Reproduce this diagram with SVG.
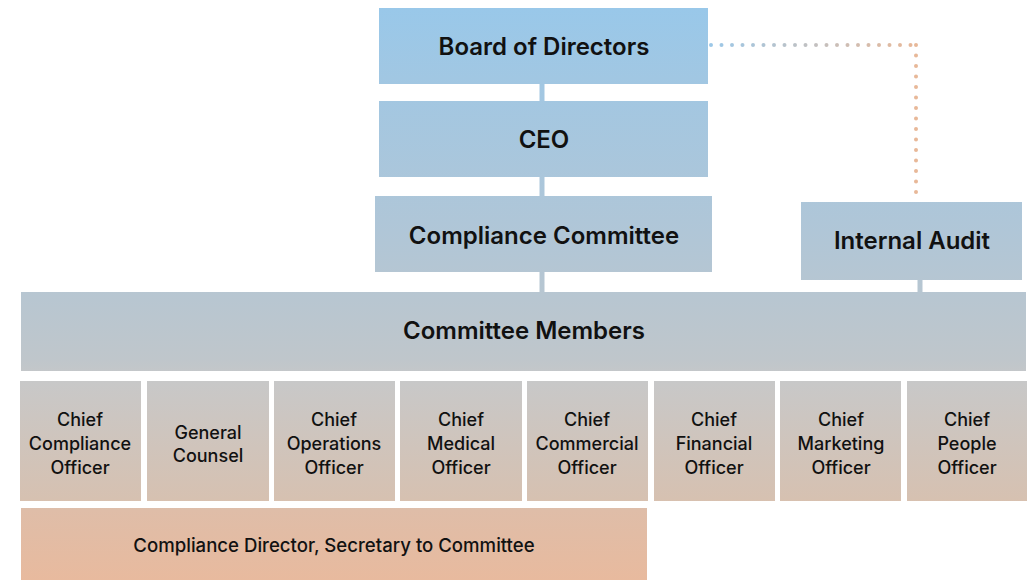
<svg xmlns="http://www.w3.org/2000/svg" width="1030" height="580" viewBox="0 0 1030 580">
  <defs>
    <linearGradient id="g" gradientUnits="userSpaceOnUse" x1="0" y1="0" x2="0" y2="580">
      <stop offset="0" stop-color="#98C8EA"/>
      <stop offset="0.15" stop-color="#A2C7E2"/>
      <stop offset="0.4" stop-color="#B0C6D7"/>
      <stop offset="0.62" stop-color="#BFC6CB"/>
      <stop offset="0.66" stop-color="#C8C8C8"/>
      <stop offset="0.86" stop-color="#D6C1B1"/>
      <stop offset="0.88" stop-color="#DFBDA8"/>
      <stop offset="1" stop-color="#E8BA9E"/>
    </linearGradient>
    <linearGradient id="dh" gradientUnits="userSpaceOnUse" x1="711" y1="0" x2="916" y2="0">
      <stop offset="0" stop-color="#9CC8E8"/>
      <stop offset="1" stop-color="#E8B898"/>
    </linearGradient>
  </defs>
  <style>
    .box { fill: url(#g); }
    .t { font-family: Inter, "Liberation Sans", sans-serif; fill: #111; text-anchor: middle; dominant-baseline: central; }
    .h { font-size: 24px; font-weight: 600; }
    .s { font-size: 18px; font-weight: 500; }
    .d { font-size: 18.6px; font-weight: 500; }
    .c { stroke: url(#g); stroke-width: 5; fill: none; }
    .dot { stroke-width: 4; stroke-linecap: round; stroke-dasharray: 0 10.5; fill: none; }
  </style>
  <rect width="1030" height="580" fill="#ffffff"/>
  <g id="connectors">
    <line class="c" x1="542" y1="84" x2="542" y2="101"/>
    <line class="c" x1="542" y1="177" x2="542" y2="196"/>
    <line class="c" x1="542" y1="272" x2="542" y2="292"/>
    <line class="c" x1="920" y1="280" x2="920" y2="292"/>
    <path class="dot" stroke="url(#dh)" d="M711,45 H916"/>
    <path class="dot" stroke="#E8B898" d="M916,45 V200"/>
  </g>
  <g id="board"><rect class="box" x="379" y="8" width="329" height="76"/><text class="t h" x="544" y="46">Board of Directors</text></g>
  <g id="ceo"><rect class="box" x="379" y="101" width="329" height="76"/><text class="t h" x="544" y="139">CEO</text></g>
  <g id="compliance-committee"><rect class="box" x="375" y="196" width="337" height="76"/><text class="t h" x="544" y="235">Compliance Committee</text></g>
  <g id="internal-audit"><rect class="box" x="801" y="202" width="221" height="78"/><text class="t h" x="912" y="240">Internal Audit</text></g>
  <g id="committee-members"><rect class="box" x="21" y="292" width="1005" height="79"/><text class="t h" x="524" y="330">Committee Members</text></g>
  <g id="cco"><rect class="box" x="20" y="381" width="121" height="120"/><text class="t s" x="80" y="419">Chief</text><text class="t s" x="80" y="443">Compliance</text><text class="t s" x="80" y="467">Officer</text></g>
  <g id="gc"><rect class="box" x="147" y="381" width="122" height="120"/><text class="t s" x="208" y="432">General</text><text class="t s" x="208" y="455">Counsel</text></g>
  <g id="coo"><rect class="box" x="274" y="381" width="121" height="120"/><text class="t s" x="334" y="419">Chief</text><text class="t s" x="334" y="443">Operations</text><text class="t s" x="334" y="467">Officer</text></g>
  <g id="cmo-medical"><rect class="box" x="400" y="381" width="122" height="120"/><text class="t s" x="461" y="419">Chief</text><text class="t s" x="461" y="443">Medical</text><text class="t s" x="461" y="467">Officer</text></g>
  <g id="cco-commercial"><rect class="box" x="527" y="381" width="121" height="120"/><text class="t s" x="587" y="419">Chief</text><text class="t s" x="587" y="443">Commercial</text><text class="t s" x="587" y="467">Officer</text></g>
  <g id="cfo"><rect class="box" x="654" y="381" width="121" height="120"/><text class="t s" x="714" y="419">Chief</text><text class="t s" x="714" y="443">Financial</text><text class="t s" x="714" y="467">Officer</text></g>
  <g id="cmo-marketing"><rect class="box" x="780" y="381" width="121" height="120"/><text class="t s" x="841" y="419">Chief</text><text class="t s" x="841" y="443">Marketing</text><text class="t s" x="841" y="467">Officer</text></g>
  <g id="cpo"><rect class="box" x="907" y="381" width="120" height="120"/><text class="t s" x="967" y="419">Chief</text><text class="t s" x="967" y="443">People</text><text class="t s" x="967" y="467">Officer</text></g>
  <g id="compliance-director"><rect class="box" x="21" y="508" width="626" height="72"/><text class="t d" x="334" y="545">Compliance Director, Secretary to Committee</text></g>
</svg>
